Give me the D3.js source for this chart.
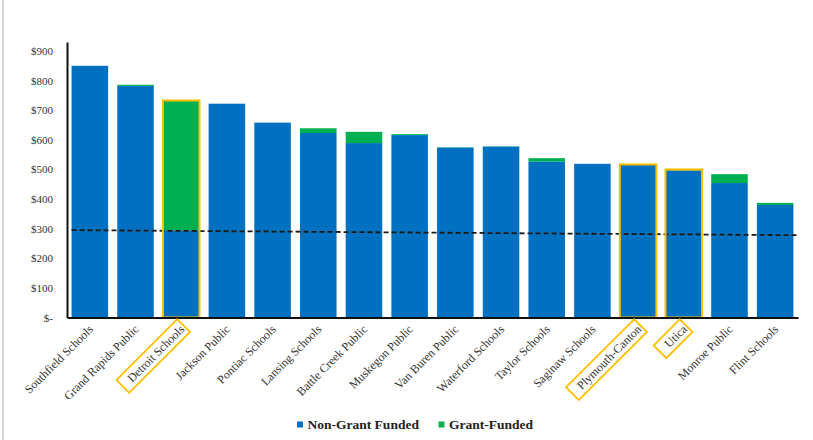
<!DOCTYPE html>
<html>
<head>
<meta charset="utf-8">
<script src="https://cdn.jsdelivr.net/npm/d3@7"></script>
<style>
  html, body { margin: 0; padding: 0; background: #fff; }
  svg { display: block; }
  svg text { font-family: "Liberation Serif", "Times New Roman", "DejaVu Serif", serif; }
</style>
</head>
<body>
<svg id="chart" width="813" height="440"></svg>
<script>
// ---- data ----
const categories = ["Southfield Schools", "Grand Rapids Public", "Detroit Schools", "Jackson Public",
  "Pontiac Schools", "Lansing Schools", "Battle Creek Public", "Muskegon Public", "Van Buren Public",
  "Waterford Schools", "Taylor Schools", "Saginaw Schools", "Plymouth-Canton", "Utica",
  "Monroe Public", "Flint Schools"];
const nonGrantFunded = [850, 782, 295, 722, 658, 623, 589, 616, 574, 577, 527, 519, 517, 497, 454, 380];
const grantFunded    = [0,   4,   438, 0,   0,   16,  38,  3,   1,   1,   11,  0,   0,   3,   30,  7];
const highlighted = ["Detroit Schools", "Plymouth-Canton", "Utica"];
const trendValues = [295, 278]; // dashed reference line, start and end
const yTicks = [0, 100, 200, 300, 400, 500, 600, 700, 800, 900];
const seriesNames = ["Non-Grant Funded", "Grant-Funded"];

// ---- styles ----
const BLUE = "#0070C0", GREEN = "#00B050", ORANGE = "#FFC000";

const svg = d3.select("#chart");

// left page border
svg.append("line").attr("x1", 3).attr("x2", 3).attr("y1", 0).attr("y2", 440)
  .attr("stroke", "#c8c8c8").attr("stroke-width", 1.5);

const x = d3.scaleBand().domain(categories).range([67, 798]).paddingInner(0.2).paddingOuter(0.1);
const y = d3.scaleLinear().domain([0, 930]).range([317.5, 42.1]);

const rows = categories.map((c, i) => ({ c, nf: nonGrantFunded[i], gf: grantFunded[i] }));

// bars
const g = svg.append("g");
g.selectAll("rect.nf").data(rows).join("rect").attr("class", "nf")
  .attr("x", d => x(d.c)).attr("width", x.bandwidth())
  .attr("y", d => y(d.nf)).attr("height", d => y(0) - y(d.nf))
  .attr("fill", BLUE);
g.selectAll("rect.gf").data(rows.filter(d => d.gf > 0)).join("rect").attr("class", "gf")
  .attr("x", d => x(d.c)).attr("width", x.bandwidth())
  .attr("y", d => y(d.nf + d.gf)).attr("height", d => y(d.nf) - y(d.nf + d.gf))
  .attr("fill", GREEN);

// dashed trend line
svg.append("line")
  .attr("x1", x(categories[0])).attr("y1", y(trendValues[0]))
  .attr("x2", x.range()[1] - 1).attr("y2", y(trendValues[1]))
  .attr("stroke", "#1a1a1a").attr("stroke-width", 1.8).attr("stroke-dasharray", "5,3");

// highlight boxes around bars
svg.selectAll("rect.hl").data(rows.filter(d => highlighted.includes(d.c))).join("rect")
  .attr("class", "hl")
  .attr("x", d => x(d.c)).attr("width", x.bandwidth())
  .attr("y", d => y(d.nf + d.gf)).attr("height", d => y(0) - y(d.nf + d.gf))
  .attr("fill", "none").attr("stroke", ORANGE).attr("stroke-width", 2);

// y axis
const yAxis = d3.axisLeft(y).tickValues(yTicks).tickSize(0).tickPadding(14)
  .tickFormat(v => v === 0 ? "$-" : "$" + v);
const ya = svg.append("g").attr("transform", "translate(67,0)").call(yAxis);
ya.attr("font-family", null);
ya.select(".domain").attr("stroke", "#111").attr("stroke-width", 2);
ya.selectAll("text").attr("font-size", 11).attr("fill", "#333");

// x axis line
const xa = svg.append("g").attr("transform", `translate(0,${y(0)})`)
  .call(d3.axisBottom(x).tickSize(0).tickFormat(""));
xa.select(".domain").attr("stroke", "#111").attr("stroke-width", 2);

// x labels, rotated
const lbl = svg.selectAll("g.lbl").data(categories).join("g").attr("class", "lbl")
  .attr("transform", c => `translate(${x(c) + x.bandwidth() / 2 + 1},327) rotate(-45)`);
lbl.append("text").text(c => c)
  .attr("text-anchor", "end").attr("dy", "0.35em")
  .attr("font-size", 12).attr("fill", "#333");
lbl.filter(c => highlighted.includes(c)).each(function () {
  const t = d3.select(this).select("text");
  const w = t.node().getComputedTextLength();
  d3.select(this).append("rect")
    .attr("x", -w - 9).attr("y", -9).attr("width", w + 11).attr("height", 18)
    .attr("fill", "none").attr("stroke", ORANGE).attr("stroke-width", 1.8);
});

// legend
const legend = svg.append("g");
const legX = [297, 438.5];
seriesNames.forEach((name, i) => {
  legend.append("rect").attr("x", legX[i]).attr("y", 421.5).attr("width", 6).attr("height", 6)
    .attr("fill", i === 0 ? BLUE : GREEN);
  legend.append("text").attr("x", legX[i] + 10.5).attr("y", 429).text(name)
    .attr("font-size", 13.5).attr("font-weight", "bold").attr("fill", "#222");
});
</script>
</body>
</html>
